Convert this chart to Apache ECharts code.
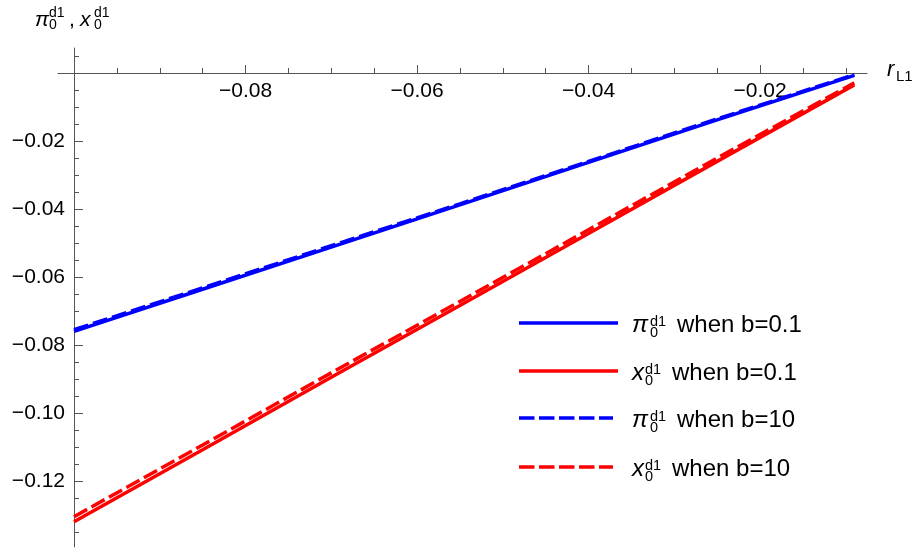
<!DOCTYPE html>
<html>
<head>
<meta charset="utf-8">
<title>π0d1 and x0d1 against rL1</title>
<script src="https://cdn.jsdelivr.net/npm/echarts@6/dist/echarts.min.js"></script>
<style>
  html, body { margin: 0; padding: 0; background: #fff; }
  #chart { width: 912px; height: 552px; }
</style>
</head>
<body>
<div id="chart"></div>
<script>
// r_L1 sample positions shared by all four curves
const rL1 = [-0.1, -0.085, -0.07, -0.055, -0.04, -0.025, -0.009];

// pi_0^d1 and x_0^d1 for b = 0.1 (solid) and b = 10 (dashed)
const piB01 = [-0.0760, -0.0636, -0.0512, -0.0388, -0.0263, -0.0138, -0.0007];
const xB01  = [-0.1320, -0.1108, -0.0895, -0.0684, -0.0472, -0.0260, -0.0035];
const piB10 = [-0.0755, -0.0632, -0.0508, -0.0385, -0.0260, -0.0135, -0.0005];
const xB10  = [-0.1305, -0.1094, -0.0882, -0.0672, -0.0461, -0.0250, -0.0029];

// axis ticks
const xMajor = [-0.08, -0.06, -0.04, -0.02];
const xMinor = [-0.095, -0.09, -0.085, -0.075, -0.07, -0.065, -0.055, -0.05, -0.045,
                -0.035, -0.03, -0.025, -0.015, -0.01];
const yMajor = [-0.02, -0.04, -0.06, -0.08, -0.10, -0.12];
const yMinor = [0.005, -0.005, -0.01, -0.015, -0.025, -0.03, -0.035, -0.045, -0.05, -0.055,
                -0.065, -0.07, -0.075, -0.085, -0.09, -0.095, -0.105, -0.11, -0.115,
                -0.125, -0.13, -0.135];

const FONT = '"Liberation Sans", Arial, sans-serif';
const AXIS_COLOR = '#555';
const BLUE = '#0000ff';
const RED = '#ff0000';

// plot area: 58..867 px horizontally, 48..547 px vertically
const GRID = { left: 58, right: 45, top: 48, bottom: 5 };
const X_MIN = -0.101866, X_MAX = -0.007522;
const Y_MIN = -0.139412, Y_MAX = 0.007353;
// the horizontal axis sits at y = 0, the vertical one at r_L1 = -0.1
const X_AXIS_SHIFT = -474;
const Y_AXIS_SHIFT = -16;

function fmt(v) {
  const s = Math.abs(v).toFixed(2);
  return (v < 0 ? '\u2212' : '') + s;
}

function pairs(ys) { return rL1.map((x, i) => [x, ys[i]]); }

function xAxisDef(values, len, showLine, showLabel) {
  return {
    type: 'value', min: X_MIN, max: X_MAX, position: 'bottom', offset: X_AXIS_SHIFT,
    axisLine: { show: true, onZero: false,
      lineStyle: { color: AXIS_COLOR, width: 1, opacity: showLine ? 1 : 0 } },
    axisTick: { show: true, inside: true, length: len, customValues: values,
      lineStyle: { color: AXIS_COLOR, width: 1 } },
    axisLabel: { show: showLabel, customValues: values, formatter: fmt, margin: 8,
      color: '#000', fontSize: 21, fontFamily: FONT },
    splitLine: { show: false }, minorTick: { show: false }
  };
}

function yAxisDef(values, len, showLine, showLabel) {
  return {
    type: 'value', min: Y_MIN, max: Y_MAX, position: 'left', offset: Y_AXIS_SHIFT,
    axisLine: { show: true, onZero: false,
      lineStyle: { color: AXIS_COLOR, width: 1, opacity: showLine ? 1 : 0 } },
    axisTick: { show: true, inside: true, length: len, customValues: values,
      lineStyle: { color: AXIS_COLOR, width: 1 } },
    axisLabel: { show: showLabel, customValues: values, formatter: fmt, margin: 9,
      color: '#000', fontSize: 21, fontFamily: FONT },
    splitLine: { show: false }, minorTick: { show: false }
  };
}

// text piece placed by its left edge and baseline
function txt(str, x, baseline, fs, italic) {
  return {
    type: 'text', silent: true,
    style: {
      text: str, x: x, y: baseline - 0.31 * fs,
      fontSize: fs, fontFamily: FONT, fontStyle: italic ? 'italic' : 'normal',
      fill: '#000', align: 'left', verticalAlign: 'middle'
    }
  };
}

// symbol with stacked superscript "d1" and subscript "0"
function symbol(base, x, baseline, fs, scriptX, sfs, supDy, subDy) {
  return [
    txt(base, x, baseline, fs, true),
    txt('d1', scriptX, baseline + supDy, sfs, false),
    txt('0', scriptX, baseline + subDy, sfs, false)
  ];
}

const legendRows = [
  { sym: '\u03c0', label: 'when b=0.1', color: BLUE, dashed: false },
  { sym: 'x', label: 'when b=0.1', color: RED, dashed: false },
  { sym: '\u03c0', label: 'when b=10', color: BLUE, dashed: true },
  { sym: 'x', label: 'when b=10', color: RED, dashed: true }
];
const legendY = [323, 371, 418, 467];

const graphics = [];
// vertical axis title
graphics.push(...symbol('\u03c0', 35, 27, 21, 49, 14, -10, 2.5));
graphics.push(txt(',', 69, 27, 21, false));
graphics.push(...symbol('x', 80, 27, 21, 94, 14, -10, 2.5));
// horizontal axis title
graphics.push(txt('r', 887, 77, 22, true));
graphics.push(txt('L1', 896, 82, 15, false));

// legend
legendRows.forEach((row, i) => {
  const y = legendY[i];
  graphics.push({
    type: 'line', silent: true,
    shape: { x1: 519, y1: y, x2: row.dashed ? 613 : 618, y2: y },
    style: { stroke: row.color, lineWidth: 3.5, lineDash: row.dashed ? [15.5, 4.5] : null }
  });
  const isPi = row.sym === '\u03c0';
  graphics.push(...symbol(row.sym, 632, y + 10, 24, isPi ? 650 : 645, 14.5, -6.5, 4.5));
  graphics.push(txt(row.label, isPi ? 677 : 672, y + 10, 24, false));
});

function lineSeries(name, ys, color, dashed) {
  return {
    name: name, type: 'line', data: pairs(ys), xAxisIndex: 0, yAxisIndex: 0,
    showSymbol: false, symbol: 'none', smooth: false, silent: true,
    lineStyle: { color: color, width: 3.5, type: dashed ? [15, 5] : 'solid' },
    z: dashed ? 3 : 2
  };
}

const chart = echarts.init(document.getElementById('chart'), null, { renderer: 'canvas' });
chart.setOption({
  animation: false,
  backgroundColor: '#fff',
  grid: Object.assign({ containLabel: false }, GRID),
  xAxis: [xAxisDef(xMajor, 8, true, true), xAxisDef(xMinor, 5, false, false)],
  yAxis: [yAxisDef(yMajor, 9, true, true), yAxisDef(yMinor, 5, false, false)],
  series: [
    lineSeries('pi b=0.1', piB01, BLUE, false),
    lineSeries('x b=0.1', xB01, RED, false),
    lineSeries('pi b=10', piB10, BLUE, true),
    lineSeries('x b=10', xB10, RED, true)
  ],
  graphic: graphics
});
</script>
</body>
</html>
